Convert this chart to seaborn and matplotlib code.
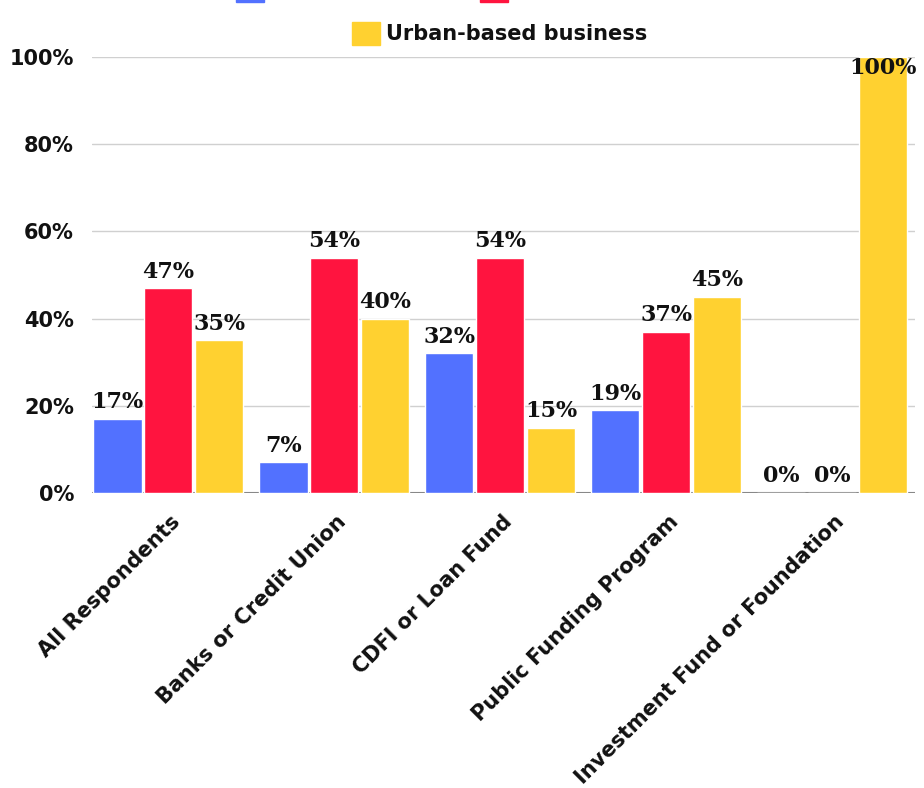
import matplotlib
matplotlib.use("Agg")
import matplotlib.pyplot as plt
import matplotlib.transforms as mtransforms
from matplotlib.patches import Patch
import seaborn as sns
import pandas as pd

categories = ["All Respondents", "Banks or Credit Union", "CDFI or Loan Fund",
              "Public Funding Program", "Investment Fund or Foundation"]
series_names = ["Rural-based business", "Suburban-based business", "Urban-based business"]
blue_vals = [17, 7, 32, 19, 0]
red_vals = [47, 54, 54, 37, 0]
yellow_vals = [35, 40, 15, 45, 100]
y_ticks = [0, 20, 40, 60, 80, 100]
colors = ["#5271FF", "#FF143F", "#FFD130"]

rows = []
for name, vals in zip(series_names, [blue_vals, red_vals, yellow_vals]):
    for c, v in zip(categories, vals):
        rows.append({"category": c, "series": name, "value": v})
df = pd.DataFrame(rows)

sns.set_theme(style="white")
plt.rcParams["font.family"] = ["DejaVu Sans"]

W, H = 924, 788
fig = plt.figure(figsize=(W / 100, H / 100), dpi=100)
ax = fig.add_axes([92 / W, 295 / H, 823 / W, 436 / H])

sns.barplot(data=df, x="category", y="value", hue="series", order=categories,
            hue_order=series_names, palette=colors, width=0.92, gap=0.05,
            saturation=1, ax=ax, legend=False, zorder=3)

ax.set_ylim(0, 100)
ax.set_xlim(-0.46, 4.5)
ax.set_yticks(y_ticks)
ax.set_yticklabels([f"{t}%" for t in y_ticks], fontsize=15, fontweight="bold")
ax.yaxis.grid(True, color="#d0d0d0", linewidth=1, zorder=0)
ax.set_axisbelow(True)
ax.axhline(0, color="#888888", linewidth=1.5, zorder=2)
for s in ax.spines.values():
    s.set_visible(False)
ax.tick_params(axis="y", length=0, pad=13, colors="#111111")
ax.tick_params(axis="x", length=0, pad=0)
ax.set_xlabel("")
ax.set_ylabel("")

ax.set_xticks(range(len(categories)))
ax.set_xticklabels(categories, rotation=45, ha="right", va="center",
                   rotation_mode="anchor", fontsize=15, fontweight="bold", color="#111111")
offset = mtransforms.ScaledTranslation(9 / 100, -26 / 100, fig.dpi_scale_trans)
for lbl in ax.get_xticklabels():
    lbl.set_transform(lbl.get_transform() + offset)

label_kw = dict(fontsize=16, fontweight="bold", family="DejaVu Serif",
                color="#111111", zorder=5)
for cont in ax.containers:
    vals = [b.get_height() for b in cont]
    outside = [f"{int(round(v))}%" if v < 95 else "" for v in vals]
    inside = [f"{int(round(v))}%" if v >= 95 else "" for v in vals]
    ax.bar_label(cont, labels=outside, padding=4, **label_kw)
    if any(inside):
        ax.bar_label(cont, labels=inside, padding=-16, **label_kw)

fs = 15
common = dict(frameon=False, handlelength=1.33, handleheight=1.33,
              handletextpad=0.3, borderpad=0, borderaxespad=0,
              prop={"weight": "bold", "size": fs})
leg1 = fig.legend(handles=[Patch(color=colors[0])], labels=[series_names[0]],
                  loc="lower left", bbox_to_anchor=(236 / W, 1 - 1.7 / H), **common)
leg2 = fig.legend(handles=[Patch(color=colors[1])], labels=[series_names[1]],
                  loc="lower left", bbox_to_anchor=(480 / W, 1 - 1.7 / H), **common)
leg3 = fig.legend(handles=[Patch(color=colors[2])], labels=[series_names[2]],
                  loc="lower left", bbox_to_anchor=(352 / W, 1 - 45 / H), **common)
for lg in (leg1, leg2, leg3):
    for t in lg.get_texts():
        t.set_color("#111111")

fig.savefig("out.png", dpi=100, facecolor="white")
